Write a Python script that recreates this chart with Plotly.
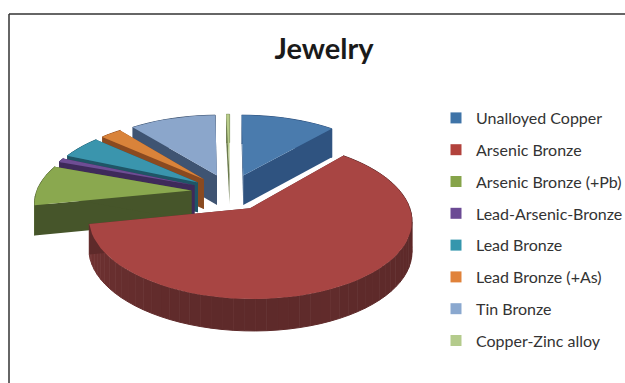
import math
import plotly.graph_objects as go

categories = ["Unalloyed Copper", "Arsenic Bronze", "Arsenic Bronze (+Pb)", "Lead-Arsenic-Bronze",
              "Lead Bronze", "Lead Bronze (+As)", "Tin Bronze", "Copper-Zinc alloy"]
values = [11.4, 60.1, 8.7, 0.9, 5.0, 2.6, 10.4, 0.4]
top_colors = ["#4a7bad", "#a84543", "#8aa84f", "#6e4d94", "#3a95ad", "#d9833a", "#8ba6cb", "#b8cc8a"]
wall_colors = ["#2f5380", "#5e2a2a", "#46552a", "#3e2a5a", "#1f5566", "#8a4a20", "#3f5472", "#6b7a4d"]
legend_colors = ["#3f74a8", "#b2423c", "#86a44a", "#6b4a94", "#3596ad", "#e0823a", "#8aa8cf", "#b4cb8c"]
draw_order = [6, 7, 0, 5, 4, 3, 2, 1]

CX, CY, RX, RY, K, PULL, DEPTH = 230, 192, 155, 73, 0.14, 0.25, 30


def project(px, py, down=0.0):
    w = 1 + K * py
    return CX + RX * px / w, CY - RY * py / w + DEPTH * down / (1 + 0.05 * py)


def mix(hex_color, f):
    c = [int(hex_color[i:i + 2], 16) for i in (1, 3, 5)]
    return "rgb(%d,%d,%d)" % tuple(min(255, round(v * f)) for v in c)


total = sum(values)
fig = go.Figure()
edges = [0.0]
for v in values:
    edges.append(edges[-1] + v / total * 2 * math.pi)


def poly(points, color, name, seam=0.0):
    fig.add_trace(go.Scatter(x=[p[0] for p in points], y=[p[1] for p in points], mode="lines",
                             line=dict(width=seam, color=color), fill="toself", fillcolor=color,
                             showlegend=False, legendgroup=name, hoverinfo="skip"))


for i in draw_order:
    a0, a1 = edges[i], edges[i + 1]
    mid = (a0 + a1) / 2
    ox, oy = PULL * math.sin(mid), PULL * math.cos(mid)
    n = max(3, int((a1 - a0) / 0.06))
    arc = [a0 + (a1 - a0) * j / n for j in range(n + 1)]
    rim = [(ox + math.sin(a), oy + math.cos(a)) for a in arc]
    name = categories[i]
    wall = wall_colors[i]
    for j in range(n):
        shade = 1.0 + 0.3 * (1 - abs(math.cos(arc[j]))) * (1 if math.sin(arc[j]) < 0.5 else 0)
        poly([project(*rim[j]), project(*rim[j + 1]), project(*rim[j + 1], 1), project(*rim[j], 1)],
             mix(wall, shade), name, seam=1.0)
    for corner in (rim[0], rim[-1]):
        poly([project(ox, oy), project(*corner), project(*corner, 1), project(ox, oy, 1)], wall, name)
    poly([project(ox, oy)] + [project(*p) for p in rim], top_colors[i], name)

for name, color in zip(categories, legend_colors):
    fig.add_trace(go.Scatter(x=[None], y=[None], mode="markers", name=name, legendgroup=name,
                             marker=dict(symbol="square", size=11, color=color)))

frame = dict(color="#333333", width=1.5)
fig.update_layout(
    width=625, height=383, margin=dict(l=0, r=0, t=0, b=0, autoexpand=False),
    paper_bgcolor="white", plot_bgcolor="white", font=dict(family="Lato", color="#333333"),
    xaxis=dict(range=[0, 625], visible=False, fixedrange=True),
    yaxis=dict(range=[383, 0], visible=False, fixedrange=True),
    title=dict(text="<b>Jewelry</b>", x=324 / 625, xanchor="center", y=1 - 49 / 383, yanchor="middle",
               font=dict(family="Lato", size=29, color="#1a1a1a")),
    legend=dict(x=436 / 625, xanchor="left", y=1 - 101 / 383, yanchor="top", bgcolor="rgba(0,0,0,0)",
                font=dict(family="Lato", size=16, color="#333333"), tracegroupgap=8, itemwidth=30),
    shapes=[dict(type="line", xref="x", yref="y", x0=9, y0=14, x1=625, y1=14, line=frame),
            dict(type="line", xref="x", yref="y", x0=9, y0=14, x1=9, y1=383, line=frame)],
)
fig.write_html("out.html", config=dict(displayModeBar=False),
               post_script="document.body.style.margin='0';document.documentElement.style.overflow='hidden';")
